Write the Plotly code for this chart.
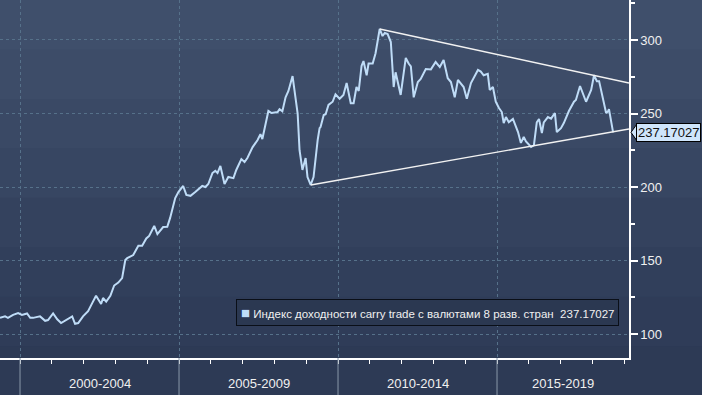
import plotly.graph_objects as go

# ---- data (decimal years, index level) ----
years = [1999.37, 1999.53, 1999.62, 1999.78, 1999.94, 2000.06, 2000.22, 2000.32, 2000.41, 2000.63,
         2000.79, 2000.88, 2001.04, 2001.17, 2001.29, 2001.48, 2001.64, 2001.73, 2001.83, 2001.98,
         2002.14, 2002.27, 2002.39, 2002.55, 2002.61, 2002.71, 2002.84, 2002.96, 2003.09, 2003.21,
         2003.31, 2003.37, 2003.56, 2003.72, 2003.84, 2003.97, 2004.06, 2004.22, 2004.32, 2004.50,
         2004.63, 2004.72, 2004.88, 2004.98, 2005.13, 2005.23, 2005.36, 2005.51, 2005.73, 2005.83,
         2005.92, 2006.05, 2006.14, 2006.21, 2006.30, 2006.43, 2006.55, 2006.71, 2006.80, 2006.96,
         2007.06, 2007.15, 2007.31, 2007.47, 2007.56, 2007.62, 2007.72, 2007.81, 2007.91, 2008.10,
         2008.16, 2008.25, 2008.35, 2008.44, 2008.57, 2008.63, 2008.73, 2008.79, 2008.88, 2008.98,
         2009.04, 2009.14, 2009.23, 2009.36, 2009.42, 2009.45, 2009.55, 2009.61, 2009.70, 2009.83,
         2009.92, 2010.05, 2010.17, 2010.27, 2010.40, 2010.49, 2010.58, 2010.65, 2010.74, 2010.80,
         2010.90, 2010.96, 2011.09, 2011.18, 2011.31, 2011.40, 2011.47, 2011.56, 2011.66, 2011.75,
         2011.81, 2011.97, 2012.13, 2012.22, 2012.29, 2012.38, 2012.51, 2012.60, 2012.76, 2012.92,
         2013.07, 2013.20, 2013.32, 2013.45, 2013.55, 2013.67, 2013.77, 2013.95, 2014.05, 2014.18,
         2014.40, 2014.49, 2014.58, 2014.71, 2014.77, 2014.87, 2014.96, 2015.06, 2015.15, 2015.21,
         2015.28, 2015.37, 2015.50, 2015.66, 2015.75, 2015.84, 2015.91, 2016.07, 2016.16, 2016.25,
         2016.32, 2016.41, 2016.47, 2016.60, 2016.70, 2016.82, 2016.88, 2017.01, 2017.10, 2017.26,
         2017.42, 2017.48, 2017.61, 2017.80, 2017.96, 2018.05, 2018.14, 2018.21, 2018.33, 2018.43,
         2018.49, 2018.52, 2018.65]
values = [111.0, 112.0, 111.0, 113.0, 114.3, 113.0, 114.0, 111.0, 111.0, 112.0,
          109.0, 109.5, 114.0, 110.0, 107.5, 110.0, 112.0, 107.0, 107.5, 112.0,
          115.6, 121.0, 126.0, 120.4, 124.5, 122.0, 126.0, 133.0, 135.0, 138.0,
          150.3, 151.6, 153.7, 160.0, 160.0, 165.0, 166.7, 173.5, 168.0, 172.8,
          173.0, 179.0, 192.5, 196.6, 200.7, 194.6, 194.0, 196.6, 200.7, 200.0,
          202.0, 209.5, 211.0, 209.5, 214.3, 202.0, 206.8, 206.0, 211.6, 219.0,
          217.0, 219.7, 227.0, 232.0, 236.0, 232.6, 243.5, 251.7, 250.3, 251.0,
          253.0, 251.5, 261.0, 265.3, 275.5, 266.0, 250.0, 225.0, 211.6, 219.7,
          206.8, 201.4, 206.8, 232.0, 240.0, 240.8, 249.0, 249.5, 255.8, 258.0,
          263.0, 260.0, 262.6, 270.7, 257.0, 257.0, 268.0, 265.3, 282.3, 285.7,
          276.0, 284.0, 284.0, 291.0, 307.5, 302.7, 304.8, 304.0, 298.6, 268.0,
          278.0, 262.6, 287.8, 284.0, 282.0, 261.0, 271.4, 273.5, 280.3, 280.0,
          285.0, 281.6, 286.4, 274.0, 271.4, 261.0, 272.8, 268.0, 260.0, 270.7,
          279.6, 278.5, 276.0, 277.0, 266.0, 268.0, 258.0, 253.7, 251.0, 243.5,
          247.6, 244.0, 246.3, 237.4, 230.0, 234.0, 231.0, 227.2, 228.5, 244.0,
          246.3, 236.7, 244.0, 247.6, 246.5, 250.3, 237.4, 240.0, 243.5, 251.7,
          258.0, 259.2, 268.7, 258.0, 266.0, 276.0, 272.0, 272.0, 261.0, 250.3,
          251.5, 253.0, 237.17027]

# trend lines (endpoints)
upper_x = [2011.31, 2019.15]
upper_y = [307.5, 270.7]
lower_x = [2009.14, 2019.15]
lower_y = [201.4, 239.5]

last_value = 237.17027
series_name = "Индекс доходности carry trade с валютами 8 разв. стран"
period_labels = ["2000-2004", "2005-2009", "2010-2014", "2015-2019"]
period_centers = [2002.5, 2007.5, 2012.5, 2017.08]
period_starts = [2000, 2005, 2010, 2015]
y_ticks = [100, 150, 200, 250, 300]

X_RANGE = [1999.37, 2019.15]
Y_RANGE = [83.7, 327.2]

LINE_COLOR = "#bfdcf7"
GRID_COLOR = "#56718a"
FONT = "Liberation Sans"

fig = go.Figure()

fig.add_trace(go.Scatter(x=years, y=values, mode="lines",
                         line=dict(color=LINE_COLOR, width=2),
                         name=series_name, showlegend=False))
fig.add_trace(go.Scatter(x=upper_x, y=upper_y, mode="lines",
                         line=dict(color="#f2f2f2", width=1.4), showlegend=False))
fig.add_trace(go.Scatter(x=lower_x, y=lower_y, mode="lines",
                         line=dict(color="#f2f2f2", width=1.4), showlegend=False))

shapes = []
# background gradient bands
band_colors = ["#3f4f6b", "#3d4c68", "#3a4965", "#374662", "#34425e",
               "#313f5b", "#2f3c58", "#2d3a55"]
n = len(band_colors)
top, bottom = 1.0, -0.105
for i, c in enumerate(band_colors):
    y1 = top - (top - bottom) * i / n
    y0 = top - (top - bottom) * (i + 1) / n
    shapes.append(dict(type="rect", xref="paper", yref="paper", x0=0, x1=1.12,
                       y0=y0 - 0.002, y1=y1, fillcolor=c, line=dict(width=0), layer="below"))
# dividers under the x axis
for s in period_starts:
    shapes.append(dict(type="line", xref="x", yref="paper", x0=s, x1=s, y0=0, y1=-0.105,
                       line=dict(color="#8a97a8", width=1)))
# last value tag pointer
shapes.append(dict(type="path", xref="paper", yref="y", xsizemode="pixel", ysizemode="pixel",
                   xanchor=1, yanchor=last_value,
                   path="M 2 0 L 8 8.5 L 8 -8.5 Z",
                   fillcolor="#cfe5fb", line=dict(color="#000000", width=1)))

annotations = []
for lab, cx in zip(period_labels, period_centers):
    annotations.append(dict(x=cx, y=-0.072, xref="x", yref="paper", text=lab,
                            showarrow=False, yanchor="middle",
                            font=dict(family=FONT, size=13, color="#f0f0f0")))
annotations.append(dict(x=1, y=last_value, xref="paper", yref="y", xanchor="left",
                        xshift=7, text=f"{last_value:.5f}", showarrow=False,
                        bgcolor="#cfe5fb", bordercolor="#000000", borderwidth=1, borderpad=1,
                        font=dict(family=FONT, size=13, color="#111111")))
annotations.append(dict(x=0.984, y=0.128, xref="paper", yref="paper", xanchor="right",
                        yanchor="middle", showarrow=False,
                        text=(f'<span style="color:{LINE_COLOR};font-size:15px">■</span> '
                              f'{series_name}  {last_value:.5f}'),
                        bgcolor="#2b3851", bordercolor="#0a0f18", borderwidth=1, borderpad=4,
                        font=dict(family=FONT, size=11.5, color="#f0f0f0")))

fig.update_layout(
    width=702, height=395,
    margin=dict(l=0, r=73, t=0, b=37),
    paper_bgcolor="#2d3a55",
    plot_bgcolor="rgba(0,0,0,0)",
    showlegend=False,
    shapes=shapes,
    annotations=annotations,
    xaxis=dict(range=X_RANGE, tickvals=period_starts, showticklabels=False,
               ticks="outside", ticklen=4, tickcolor="#ffffff",
               showgrid=True, gridcolor=GRID_COLOR, griddash="3px,3px", gridwidth=1,
               showline=True, linecolor="#ffffff", linewidth=1.5,
               minor=dict(dtick=1, tick0=2000, ticks="outside", ticklen=4,
                          tickcolor="#ffffff", showgrid=False),
               zeroline=False, fixedrange=True),
    yaxis=dict(range=Y_RANGE, side="right", tickvals=y_ticks,
               ticks="outside", ticklen=7, tickcolor="#ffffff", tickwidth=2,
               showgrid=True, gridcolor=GRID_COLOR, griddash="3px,3px", gridwidth=1,
               showline=True, linecolor="#ffffff", linewidth=1.5,
               tickfont=dict(family=FONT, size=13, color="#f0f0f0"),
               minor=dict(dtick=25, tick0=0, ticks="outside", ticklen=4,
                          tickcolor="#ffffff", showgrid=False),
               zeroline=False, fixedrange=True),
)

fig.write_html("out.html", config={"displayModeBar": False},
               post_script="document.body.style.margin='0px';")
